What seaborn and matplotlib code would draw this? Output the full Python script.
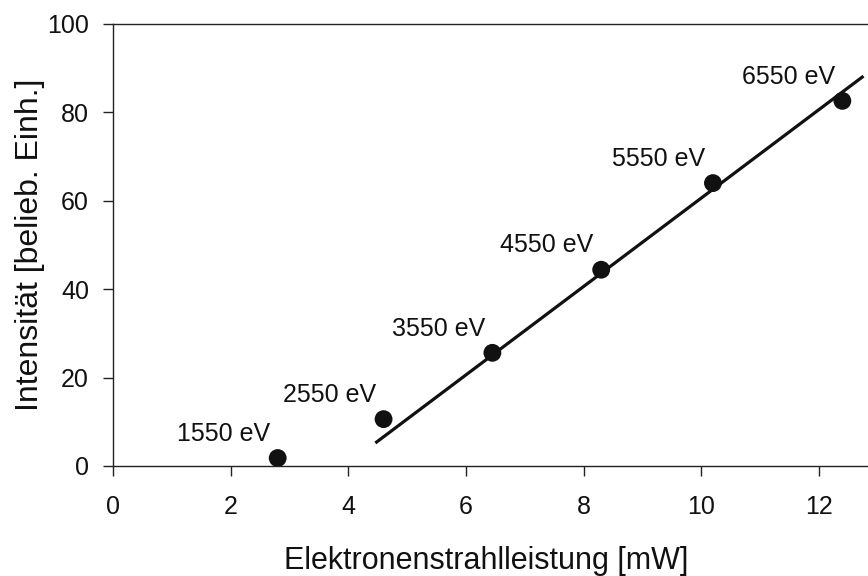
import matplotlib
matplotlib.use("Agg")
import matplotlib.pyplot as plt
import seaborn as sns
import pandas as pd

# Measured intensity vs. electron beam power at different beam energies
power_mw = [2.8, 4.6, 6.45, 8.3, 10.2, 12.4]
intensity = [1.8, 10.6, 25.6, 44.4, 64.0, 82.6]
energy_labels = ["1550 eV", "2550 eV", "3550 eV", "4550 eV", "5550 eV", "6550 eV"]

# Linear fit through the upper points (end points of the fitted line)
fit_x = [4.46, 12.76]
fit_y = [5.2, 88.2]

sns.set_theme(style="ticks")
plt.rcParams["font.family"] = ["Liberation Sans", "DejaVu Sans"]
plt.rcParams["axes.edgecolor"] = "#222222"
plt.rcParams["xtick.color"] = "#222222"
plt.rcParams["ytick.color"] = "#222222"

points = pd.DataFrame({"power": power_mw, "intensity": intensity, "label": energy_labels})
fit = pd.DataFrame({"power": fit_x, "intensity": fit_y})

fig = plt.figure(figsize=(8.68, 5.76), dpi=100)
ax = fig.add_axes([0.1302, 0.191, 0.8809, 0.7674])

sns.lineplot(data=fit, x="power", y="intensity", ax=ax, color="#111111",
             linewidth=2.3, solid_capstyle="butt")
sns.scatterplot(data=points, x="power", y="intensity", ax=ax, color="#111111",
                s=165, edgecolor="none", zorder=5)

for px, py, lab in zip(power_mw, intensity, energy_labels):
    ax.annotate(lab, (px, py), xytext=(-39, 17.5), textcoords="offset points",
                ha="center", va="center", fontsize=18, color="#111111")

ax.set_xlim(0, 13)
ax.set_ylim(0, 100)
ax.set_xticks([0, 2, 4, 6, 8, 10, 12])
ax.set_yticks([0, 20, 40, 60, 80, 100])

for side in ("top", "right", "left", "bottom"):
    ax.spines[side].set_visible(True)
    ax.spines[side].set_linewidth(1.0)

ax.tick_params(axis="both", direction="out", length=7.2, width=1.0,
               labelsize=18, labelcolor="#111111")
ax.tick_params(axis="x", pad=14)
ax.tick_params(axis="y", pad=10)

ax.set_xlabel("Elektronenstrahlleistung [mW]", fontsize=22, color="#111111")
ax.set_ylabel("Intensität [belieb. Einh.]", fontsize=23, color="#111111")
ax.xaxis.set_label_coords(0.4885, -0.18)
ax.yaxis.set_label_coords(-0.089, 0.5)

fig.savefig("out.png", dpi=100)
